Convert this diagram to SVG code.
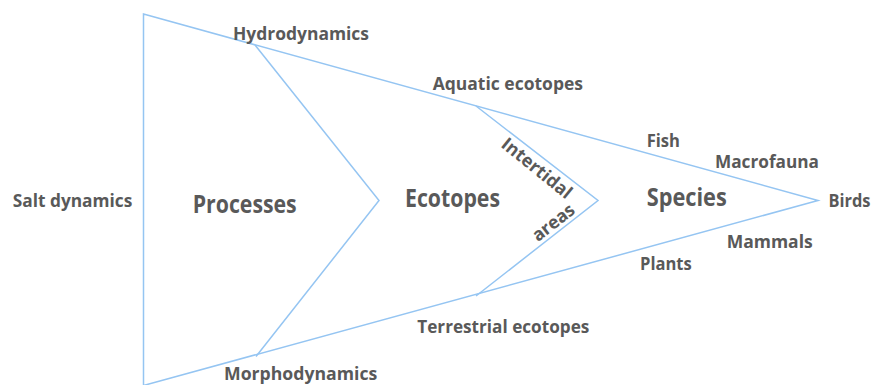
<svg xmlns="http://www.w3.org/2000/svg" width="873" height="385" viewBox="0 0 873 385">
<style>
.ln{fill:none;stroke:#95C5F2;stroke-width:1.5;stroke-linejoin:miter}
text{font-family:"Open Sans","Noto Sans","Liberation Sans",sans-serif;font-weight:700;fill:#595959}
.s{font-size:18px}
.b{font-size:25px}
</style>
<rect width="873" height="385" fill="#ffffff"/>
<g id="connectors">
<polygon class="ln" points="143.5,14 818,200.5 143.5,385.5"/>
<polyline class="ln" points="255,45 379,200.5 256,356.5"/>
<polyline class="ln" points="476,106 598,200.5 476,296"/>
</g>
<g id="processes"><text class="b" x="192.7" y="213.3" textLength="104" lengthAdjust="spacingAndGlyphs">Processes</text></g>
<g id="ecotopes"><text class="b" x="405" y="206.7" textLength="95" lengthAdjust="spacingAndGlyphs">Ecotopes</text></g>
<g id="species"><text class="b" x="646.7" y="206" textLength="80" lengthAdjust="spacingAndGlyphs">Species</text></g>
<g id="salt-dynamics"><text class="s" x="12.7" y="207.3" textLength="119.6" lengthAdjust="spacingAndGlyphs">Salt dynamics</text></g>
<g id="hydrodynamics"><text class="s" x="233" y="39.5" textLength="136" lengthAdjust="spacingAndGlyphs">Hydrodynamics</text></g>
<g id="morphodynamics"><text class="s" x="224" y="380" textLength="153.3" lengthAdjust="spacingAndGlyphs">Morphodynamics</text></g>
<g id="aquatic-ecotopes"><text class="s" x="432.7" y="90" textLength="150.3" lengthAdjust="spacingAndGlyphs">Aquatic ecotopes</text></g>
<g id="terrestrial-ecotopes"><text class="s" x="417.3" y="332.7" textLength="172" lengthAdjust="spacingAndGlyphs">Terrestrial ecotopes</text></g>
<g id="intertidal-areas">
<text class="s" transform="translate(536.7,168.3) rotate(39)" x="0" y="6" text-anchor="middle" textLength="85" lengthAdjust="spacingAndGlyphs">Intertidal</text>
<text class="s" transform="translate(554,223.3) rotate(-38)" x="0" y="5" text-anchor="middle" textLength="48.7" lengthAdjust="spacingAndGlyphs">areas</text>
</g>
<g id="fish"><text class="s" x="646.7" y="146.7" textLength="33.3" lengthAdjust="spacingAndGlyphs">Fish</text></g>
<g id="macrofauna"><text class="s" x="715" y="167.7" textLength="104" lengthAdjust="spacingAndGlyphs">Macrofauna</text></g>
<g id="birds"><text class="s" x="828.5" y="207.3" textLength="42" lengthAdjust="spacingAndGlyphs">Birds</text></g>
<g id="mammals"><text class="s" x="726.7" y="247.7" textLength="86" lengthAdjust="spacingAndGlyphs">Mammals</text></g>
<g id="plants"><text class="s" x="640" y="270" textLength="51.7" lengthAdjust="spacingAndGlyphs">Plants</text></g>
</svg>
